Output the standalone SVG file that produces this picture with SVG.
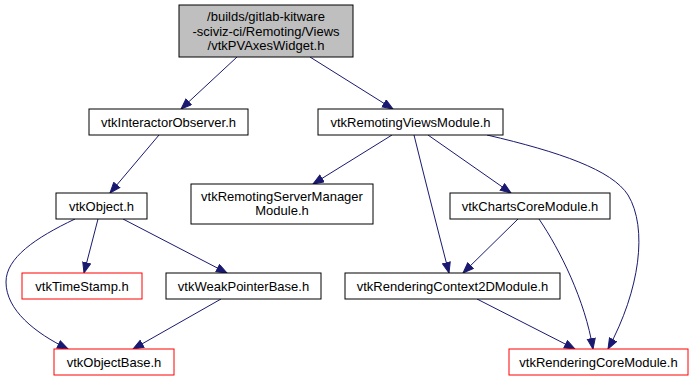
<svg xmlns="http://www.w3.org/2000/svg" width="693" height="380" viewBox="0 0 693 380">
  <style>
    .box { fill: #ffffff; stroke: #000000; stroke-width: 1; }
    .root { fill: #bfbfbf; stroke: #000000; stroke-width: 1; }
    .trunc { fill: #ffffff; stroke: #ff0000; stroke-width: 1; }
    text { font-family: "Liberation Sans", Arial, Helvetica, sans-serif; font-size: 13px; fill: #000000; text-anchor: middle; }
    .edge { fill: none; stroke: #191970; stroke-width: 1; marker-end: url(#arrow); }
  </style>
  <defs>
    <marker id="arrow" markerUnits="userSpaceOnUse" markerWidth="12" markerHeight="10" refX="11" refY="4.5" orient="auto">
      <path d="M0.5,0.5 L11,4.5 L0.5,8.5 Z" fill="#191970" stroke="#191970" stroke-width="1"/>
    </marker>
  </defs>
  <rect width="693" height="380" fill="#ffffff"/>

  <g id="edges">
    <path class="edge" d="M237,57 L181,109"/>
    <path class="edge" d="M310,57 L393,109"/>
    <path class="edge" d="M159,135 L110,193"/>
    <path class="edge" d="M98,219 L84,273"/>
    <path class="edge" d="M123,219 L227,273"/>
    <path class="edge" d="M75,219 C35,238 6,258 6,282 C6,310 35,333 68,349"/>
    <path class="edge" d="M221,299 L133,349"/>
    <path class="edge" d="M392,135 L313,184"/>
    <path class="edge" d="M414,135 Q430,200 449,273"/>
    <path class="edge" d="M428,135 L511,193"/>
    <path class="edge" d="M487,135 C560,152 612,170 628,195 C648,228 640,290 608,349"/>
    <path class="edge" d="M518,219 L463,273"/>
    <path class="edge" d="M539,219 C560,250 585,300 593,349"/>
    <path class="edge" d="M477,299 L575,349"/>
  </g>

  <g id="node-vtkPVAxesWidget">
    <rect class="root" x="179" y="5" width="174" height="52"/>
    <text x="266" y="21">/builds/gitlab-kitware</text>
    <text x="266" y="35.5">-sciviz-ci/Remoting/Views</text>
    <text x="266" y="50">/vtkPVAxesWidget.h</text>
  </g>
  <g id="node-vtkInteractorObserver">
    <rect class="box" x="89" y="109" width="159" height="26"/>
    <text x="168.5" y="126.5">vtkInteractorObserver.h</text>
  </g>
  <g id="node-vtkRemotingViewsModule">
    <rect class="box" x="318" y="109" width="185" height="26"/>
    <text x="410.5" y="126.5">vtkRemotingViewsModule.h</text>
  </g>
  <g id="node-vtkObject">
    <rect class="box" x="56" y="193" width="91" height="26"/>
    <text x="101.5" y="210.5">vtkObject.h</text>
  </g>
  <g id="node-vtkRemotingServerManagerModule">
    <rect class="box" x="191" y="184" width="182" height="40"/>
    <text x="282" y="200.5">vtkRemotingServerManager</text>
    <text x="282" y="214.5">Module.h</text>
  </g>
  <g id="node-vtkChartsCoreModule">
    <rect class="box" x="450" y="193" width="160" height="26"/>
    <text x="530" y="210.5">vtkChartsCoreModule.h</text>
  </g>
  <g id="node-vtkTimeStamp">
    <rect class="trunc" x="22" y="273" width="120" height="26"/>
    <text x="82" y="290.5">vtkTimeStamp.h</text>
  </g>
  <g id="node-vtkWeakPointerBase">
    <rect class="box" x="166" y="273" width="155" height="26"/>
    <text x="243.5" y="290.5">vtkWeakPointerBase.h</text>
  </g>
  <g id="node-vtkRenderingContext2DModule">
    <rect class="box" x="345" y="273" width="215" height="26"/>
    <text x="452.5" y="290.5">vtkRenderingContext2DModule.h</text>
  </g>
  <g id="node-vtkObjectBase">
    <rect class="trunc" x="54" y="349" width="120" height="26"/>
    <text x="114" y="366.5">vtkObjectBase.h</text>
  </g>
  <g id="node-vtkRenderingCoreModule">
    <rect class="trunc" x="509" y="349" width="179" height="26"/>
    <text x="598.5" y="366.5">vtkRenderingCoreModule.h</text>
  </g>
</svg>
